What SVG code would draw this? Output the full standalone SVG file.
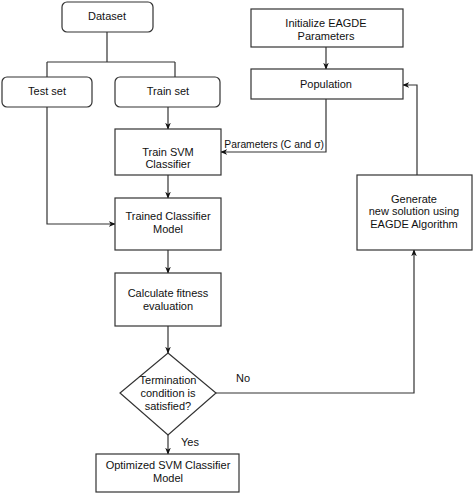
<svg xmlns="http://www.w3.org/2000/svg" width="474" height="494" viewBox="0 0 474 494">
<style>
.n{fill:#fff;stroke:#333;stroke-width:1.2}
.c{fill:none;stroke:#333;stroke-width:1.2}
text{font-family:"Liberation Sans",Arial,sans-serif;font-size:11px;fill:#111;text-anchor:middle}
</style>
<defs>
<marker id="a" viewBox="0 0 10 10" refX="9" refY="5" markerWidth="7" markerHeight="7" orient="auto" markerUnits="userSpaceOnUse">
<path d="M0,1 L10,5 L0,9 L3,5 Z" fill="#111"/>
</marker>
</defs>
<rect width="474" height="494" fill="#fff"/>
<g id="connectors">
<path class="c" d="M107,32 V62 M47,62 H175 M47,62 V77 M175,62 V77"/>
<path class="c" d="M168,107 V129" marker-end="url(#a)"/>
<path class="c" d="M47,107 V224 H115" marker-end="url(#a)"/>
<path class="c" d="M168,175 V198" marker-end="url(#a)"/>
<path class="c" d="M168,250 V273" marker-end="url(#a)"/>
<path class="c" d="M168,326 V353" marker-end="url(#a)"/>
<path class="c" d="M168,435 V454" marker-end="url(#a)"/>
<path class="c" d="M216,393 H414 V250" marker-end="url(#a)"/>
<path class="c" d="M417,175 V85 H403" marker-end="url(#a)"/>
<path class="c" d="M326,47 V69" marker-end="url(#a)"/>
<path class="c" d="M326,99 V152 H221" marker-end="url(#a)"/>
<text x="324" y="148" style="text-anchor:end;font-size:10.3px">Parameters (C and σ)</text>
<text x="243" y="382">No</text>
<text x="190" y="446">Yes</text>
</g>
<g id="dataset"><rect class="n" x="62" y="2" width="91" height="30" rx="5"/><text x="107" y="20">Dataset</text></g>
<g id="testset"><rect class="n" x="2" y="77" width="90" height="30" rx="5"/><text x="47" y="95">Test set</text></g>
<g id="trainset"><rect class="n" x="115" y="77" width="105" height="30" rx="5"/><text x="168" y="95">Train set</text></g>
<g id="init"><rect class="n" x="251" y="9" width="152" height="38"/><text x="326" y="27">Initialize EAGDE</text><text x="326" y="40">Parameters</text></g>
<g id="population"><rect class="n" x="251" y="69" width="152" height="30"/><text x="326" y="88">Population</text></g>
<g id="trainsvm"><rect class="n" x="115" y="129" width="106" height="46"/><text x="168" y="156">Train SVM</text><text x="168" y="168">Classifier</text></g>
<g id="trained"><rect class="n" x="115" y="198" width="106" height="52"/><text x="168" y="220">Trained Classifier</text><text x="168" y="233">Model</text></g>
<g id="fitness"><rect class="n" x="115" y="273" width="106" height="53"/><text x="168" y="297">Calculate fitness</text><text x="168" y="310">evaluation</text></g>
<g id="generate"><rect class="n" x="357" y="175" width="115" height="75"/><text x="414" y="203">Generate</text><text x="414" y="215">new solution using</text><text x="414" y="228">EAGDE Algorithm</text></g>
<g id="termination"><polygon class="n" points="168,353 216,393 168,435 120,393"/><text x="168" y="384">Termination</text><text x="168" y="397">condition is</text><text x="168" y="410">satisfied?</text></g>
<g id="optimized"><rect class="n" x="96" y="454" width="143" height="38"/><text x="168" y="469">Optimized SVM Classifier</text><text x="168" y="482">Model</text></g>
</svg>
